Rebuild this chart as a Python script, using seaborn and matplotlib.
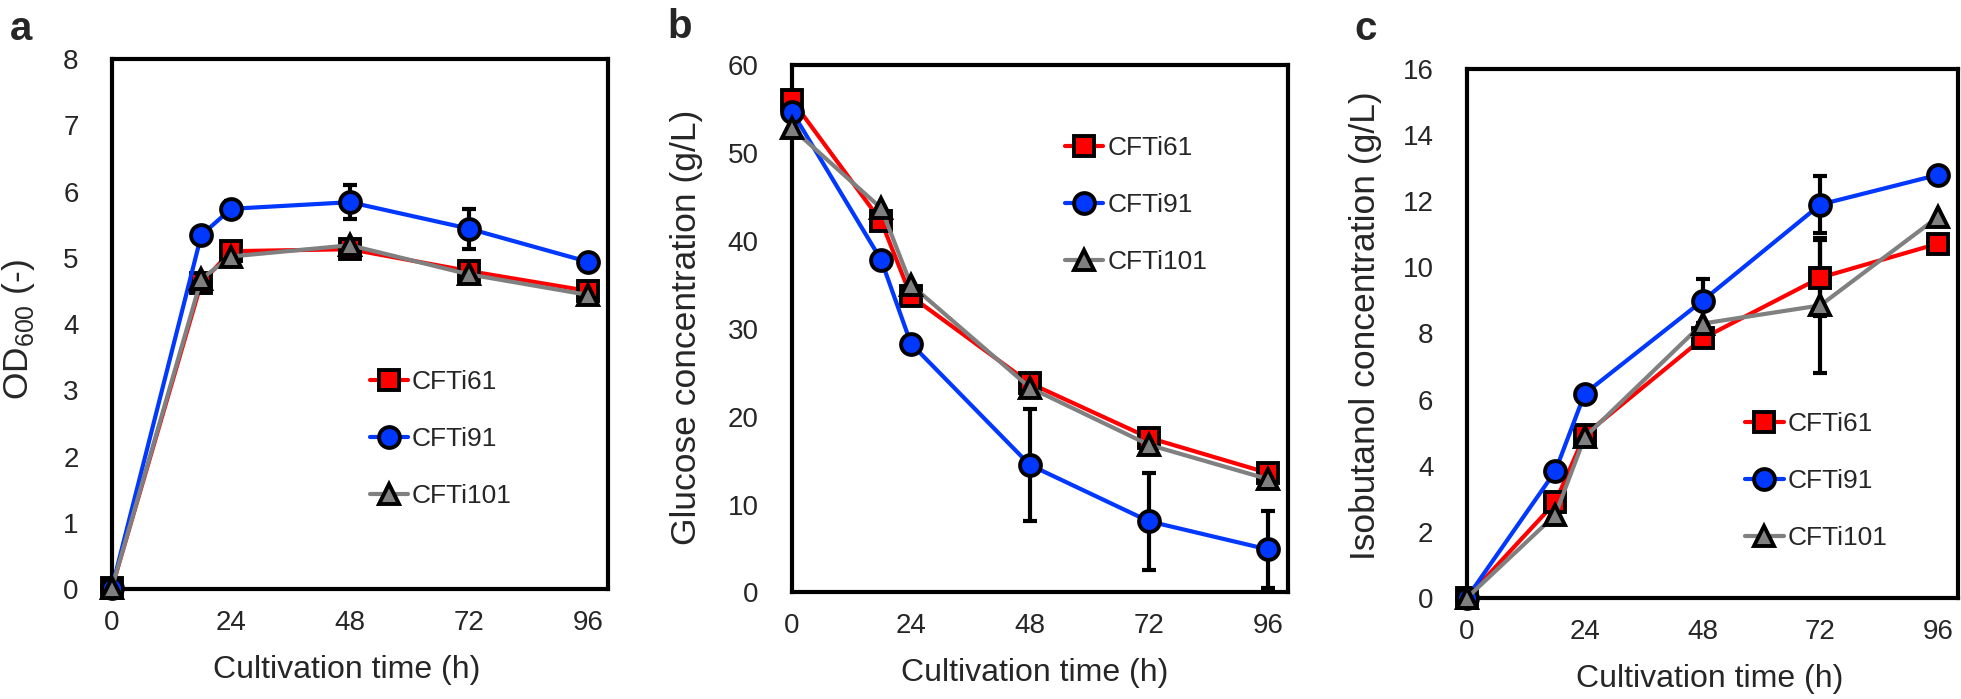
import numpy as np
import pandas as pd
import matplotlib
matplotlib.use("Agg")
import matplotlib.pyplot as plt
import seaborn as sns

# time points (h)
time_h = [0, 18, 24, 48, 72, 96]
strains = ["CFTi61", "CFTi91", "CFTi101"]

# a: OD600
od_61 = [0.02, 4.62, 5.10, 5.13, 4.80, 4.50]
od_91 = [0.02, 5.34, 5.74, 5.84, 5.44, 4.94]
od_101 = [0.02, 4.68, 5.02, 5.19, 4.75, 4.44]
od_err_61 = [0, 0, 0, 0, 0, 0]
od_err_91 = [0, 0, 0.12, 0.26, 0.30, 0]
od_err_101 = [0, 0, 0, 0, 0, 0]

# b: glucose (g/L)
glc_61 = [56.0, 42.2, 33.7, 23.8, 17.6, 13.6]
glc_91 = [54.7, 37.8, 28.3, 14.5, 8.1, 4.9]
glc_101 = [52.8, 43.7, 35.0, 23.3, 16.8, 12.9]
glc_err_61 = [0, 0, 0, 0, 0, 0]
glc_err_91 = [0, 0, 0, 6.4, 5.5, 4.4]
glc_err_101 = [0, 0, 0, 0, 0, 0]

# c: isobutanol (g/L)
ibu_61 = [0.0, 2.89, 4.93, 7.85, 9.69, 10.72]
ibu_91 = [0.0, 3.83, 6.18, 8.99, 11.90, 12.80]
ibu_101 = [0.0, 2.51, 4.86, 8.30, 8.85, 11.53]
ibu_err_61 = [0, 0, 0, 0, 1.15, 0]
ibu_err_91 = [0, 0, 0, 0.67, 0.87, 0.2]
ibu_err_101 = [0, 0, 0, 0, 2.05, 0]

colors = {"CFTi61": "#ff0000", "CFTi91": "#0038ff", "CFTi101": "#808080"}
markers = {"CFTi61": "s", "CFTi91": "o", "CFTi101": "^"}

sns.set_style("white")
plt.rcParams["font.family"] = ["Liberation Sans", "DejaVu Sans"]
plt.rcParams["mathtext.fontset"] = "custom"
plt.rcParams["mathtext.rm"] = "Liberation Sans"


def make_df(vals, errs):
    rows = []
    for s, v, e in zip(strains, vals, errs):
        for t, y, ee in zip(time_h, v, e):
            rows.append({"time": t, "value": y, "err": ee, "strain": s})
    return pd.DataFrame(rows)


def draw(ax, df, ymax, ystep, ylabel, leg_xy, ylab_xy, xlab_x):
    sns.lineplot(data=df, x="time", y="value", hue="strain", style="strain",
                 hue_order=strains, style_order=strains, palette=colors,
                 markers=markers, dashes=False, linewidth=3, markersize=15,
                 markeredgecolor="black", markeredgewidth=2.8, clip_on=False,
                 legend=False, ax=ax, zorder=3)
    lines = list(ax.lines[:3])
    for s in strains:
        d = df[(df.strain == s) & (df.err > 0)]
        if len(d):
            ax.errorbar(d["time"], d["value"], yerr=d["err"], fmt="none",
                        ecolor="black", elinewidth=3, capsize=5, capthick=3,
                        zorder=2, clip_on=False)
    ax.set_xlim(0, 100)
    ax.set_ylim(0, ymax)
    ax.set_xticks([0, 24, 48, 72, 96])
    ax.set_yticks(np.arange(0, ymax + 0.01, ystep))
    ax.tick_params(direction="in", length=5, width=2.2, labelsize=20)
    ax.tick_params(axis="y", pad=24)
    ax.tick_params(axis="x", pad=15)
    ax.tick_params(top=False, right=False)
    for sp in ax.spines.values():
        sp.set_linewidth(3)
        sp.set_color("black")
    ax.set_xlabel("Cultivation time (h)", fontsize=23)
    ax.set_ylabel(ylabel, fontsize=25.5)
    ax.xaxis.set_label_coords(xlab_x, -0.125)
    ax.yaxis.set_label_coords(*ylab_xy)
    ax.legend(lines, strains, loc="center left", bbox_to_anchor=leg_xy,
              frameon=False, fontsize=19, handlelength=1.45, handletextpad=0.15,
              labelspacing=1.25, borderpad=0, borderaxespad=0)


fig = plt.figure(figsize=(19.61, 6.99), dpi=100)
ax_a = fig.add_axes([0.0571, 0.1574, 0.2529, 0.758])
ax_b = fig.add_axes([0.4039, 0.1524, 0.2527, 0.7546])
ax_c = fig.add_axes([0.748, 0.1445, 0.2504, 0.7568])

draw(ax_a, make_df([od_61, od_91, od_101], [od_err_61, od_err_91, od_err_101]),
     8, 1, "OD$_{\\mathregular{600}}$ (-)", (0.52, 0.283), (-0.151, 0.49), 0.474)
draw(ax_b, make_df([glc_61, glc_91, glc_101], [glc_err_61, glc_err_91, glc_err_101]),
     60, 10, "Glucose concentration (g/L)", (0.551, 0.735), (-0.18, 0.503), 0.49)
draw(ax_c, make_df([ibu_61, ibu_91, ibu_101], [ibu_err_61, ibu_err_91, ibu_err_101]),
     16, 2, "Isobutanol concentration (g/L)", (0.567, 0.221), (-0.172, 0.514), 0.495)

# panel letters
for letter, xpix, ypix in [("a", 10, 29), ("b", 667, 27), ("c", 1354, 29)]:
    fig.text(xpix / 1961, 1 - ypix / 699, letter, fontsize=29, fontweight="bold",
             ha="left", va="center")

fig.savefig("out.png", dpi=100)
